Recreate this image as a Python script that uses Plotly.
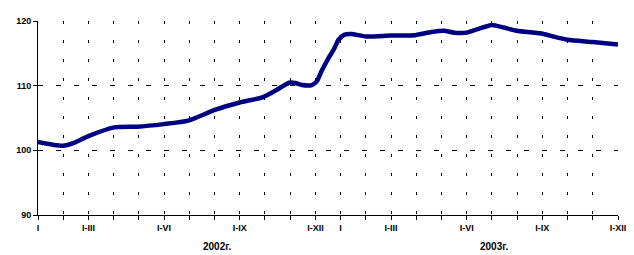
import plotly.graph_objects as go

# Data: position in months (0 = I 2002 ... 23 = I-XII 2003) and index value
month_pos = [0, 0.98, 1.45, 2.0, 3.02, 3.92, 4.98, 5.96, 7.01, 8.0, 8.9, 9.4, 9.96, 10.2,
             10.47, 10.86, 11.06, 11.25, 11.53, 11.73, 11.92, 12.16, 12.43, 13.02, 14.0,
             14.94, 15.6, 16.1, 16.5, 17.0, 17.4, 18.0, 18.47, 18.98, 20.04, 20.43, 21.0,
             22.0, 23.0]
index_val = [101.3, 100.7, 101.2, 102.2, 103.55, 103.65, 104.05, 104.6, 106.25, 107.4,
             108.2, 109.2, 110.45, 110.4, 110.1, 110.1, 110.7, 112.3, 114.35, 115.6, 117.1,
             117.9, 118.0, 117.6, 117.75, 117.8, 118.3, 118.5, 118.2, 118.2, 118.7, 119.4,
             119.0, 118.5, 118.0, 117.6, 117.1, 116.75, 116.35]

tick_positions = list(range(24))
tick_labels = ["I", "", "I-III", "", "", "I-VI", "", "", "I-IX", "", "", "I-XII",
               "I", "", "I-III", "", "", "I-VI", "", "", "I-IX", "", "", "I-XII"]
y_ticks = [90, 100, 110, 120]
year_labels = ["2002г.", "2003г."]
year_centers = [7.1, 18.1]

fig = go.Figure()
fig.add_trace(go.Scatter(
    x=month_pos, y=index_val, mode="lines",
    line=dict(color="#000080", width=4.5, shape="spline", smoothing=0.6),
    hoverinfo="skip", showlegend=False,
))

font_family = "Liberation Sans, Arial, sans-serif"

# page body has an 8px default margin; figure size and margins compensate
fig.update_layout(
    width=626, height=247,
    margin=dict(l=25, r=14, t=8, b=40),
    paper_bgcolor="white", plot_bgcolor="white",
    font=dict(family=font_family, size=9, color="black"),
    xaxis=dict(
        range=[0, 23], tickmode="array", tickvals=tick_positions, ticktext=tick_labels,
        showline=True, linecolor="black", linewidth=1,
        ticks="outside", ticklen=4, tickcolor="black",
        showgrid=True, gridcolor="black", gridwidth=1, griddash="3px,16px",
        zeroline=False,
        tickfont=dict(family=font_family, size=9, color="black", weight="bold"),
    ),
    yaxis=dict(
        range=[90, 120], tickmode="array", tickvals=y_ticks,
        showline=True, linecolor="black", linewidth=1,
        ticks="outside", ticklen=4, tickcolor="black",
        showgrid=True, gridcolor="black", gridwidth=1, griddash="5px,13px",
        zeroline=False,
        tickfont=dict(family=font_family, size=9, color="black", weight="bold"),
    ),
)

for txt, xc in zip(year_labels, year_centers):
    fig.add_annotation(
        x=xc, xref="x", y=-0.16, yref="paper", text=txt, showarrow=False,
        xanchor="center", yanchor="middle",
        font=dict(family=font_family, size=10, color="black", weight="bold"),
    )

fig.write_html("out.html")
